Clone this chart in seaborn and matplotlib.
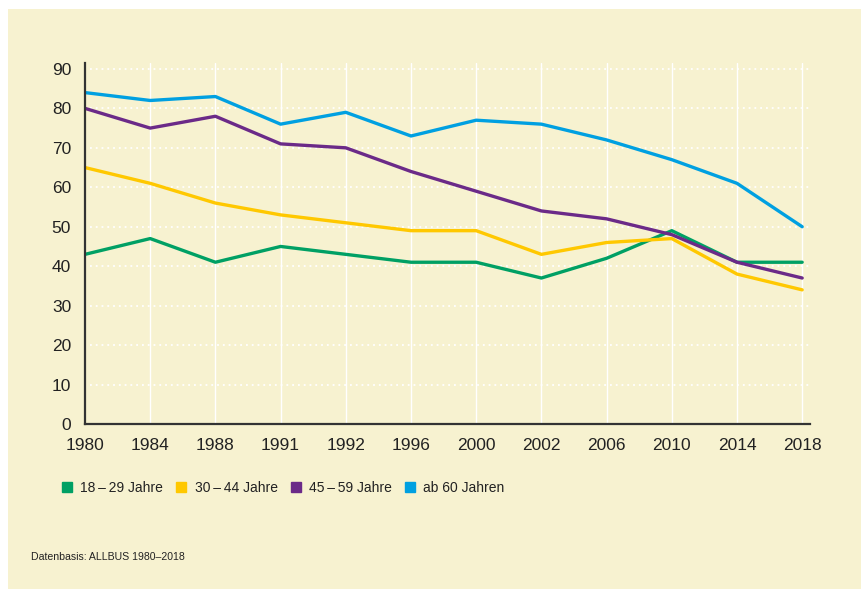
import pandas as pd
import seaborn as sns
import matplotlib.pyplot as plt
from matplotlib.lines import Line2D
from matplotlib.patches import Rectangle

years = ['1980', '1984', '1988', '1991', '1992', '1996', '2000', '2002', '2006', '2010', '2014', '2018']
age_groups = ['18\u2009–\u200929 Jahre', '30\u2009–\u200944 Jahre', '45\u2009–\u200959 Jahre', 'ab 60 Jahren']
g18_29 = [43, 47, 41, 45, 43, 41, 41, 37, 42, 49, 41, 41]
g30_44 = [65, 61, 56, 53, 51, 49, 49, 43, 46, 47, 38, 34]
g45_59 = [80, 75, 78, 71, 70, 64, 59, 54, 52, 48, 41, 37]
g60 = [84, 82, 83, 76, 79, 73, 77, 76, 72, 67, 61, 50]
colors = ['#00a064', '#ffc800', '#6b2a88', '#00a0e1']

bg = '#f7f2d0'
dark = '#333333'

rows = []
for name, vals in zip(age_groups, [g18_29, g30_44, g45_59, g60]):
    for i, v in enumerate(vals):
        rows.append({'pos': i, 'Jahr': years[i], 'Gruppe': name, 'Wert': v})
df = pd.DataFrame(rows)

sns.set_style('white')
plt.rcParams['font.family'] = ['Liberation Sans', 'DejaVu Sans']

fig = plt.figure(figsize=(8.62, 5.89), dpi=100)
fig.patch.set_facecolor('white')
fig.patches.append(Rectangle((8 / 862, 0), 1, 1 - 9 / 589, transform=fig.transFigure,
                             facecolor=bg, edgecolor='none', zorder=-10))

ax = fig.add_axes([85 / 862, 1 - 424 / 589, (810 - 85) / 862, (424 - 63) / 589])
ax.set_facecolor(bg)

sns.lineplot(data=df, x='pos', y='Wert', hue='Gruppe', palette=colors,
             linewidth=2.4, ax=ax, legend=False)

ax.set_xlim(0, 11.12)
ax.set_ylim(0, 91.5)
ax.set_xticks(range(len(years)))
ax.set_xticklabels(years)
ax.set_yticks(range(0, 91, 10))
ax.set_xlabel('')
ax.set_ylabel('')

for y in range(10, 91, 10):
    ax.plot([0.08, 11.15], [y, y], color='white', linestyle=(0, (1, 2.2)),
            linewidth=1.3, zorder=0.5, clip_on=False)
for i in range(1, len(years)):
    ax.axvline(i, color='white', linewidth=1.0, zorder=0.5)

for side in ['top', 'right']:
    ax.spines[side].set_visible(False)
for side in ['left', 'bottom']:
    ax.spines[side].set_color(dark)
    ax.spines[side].set_linewidth(1.6)
ax.tick_params(axis='both', direction='out', length=6, width=1.2, color=dark,
               labelsize=12.5, labelcolor='#222222', pad=4)

handles = [Line2D([], [], marker='s', linestyle='none', markersize=6.5,
                  markerfacecolor=c, markeredgecolor=c) for c in colors]
fig.legend(handles, age_groups, loc='center left', bbox_to_anchor=(61 / 862, 1 - 488 / 589),
           ncol=4, frameon=False, fontsize=10, handlelength=0.9, handletextpad=0.5,
           columnspacing=0.85, borderpad=0, borderaxespad=0, labelcolor='#222222')

fig.text(31 / 862, 1 - 557 / 589, 'Datenbasis: ALLBUS 1980–2018', fontsize=7.6,
         color='#222222', va='center', ha='left')

fig.savefig('out.png', dpi=100, facecolor=fig.get_facecolor())
